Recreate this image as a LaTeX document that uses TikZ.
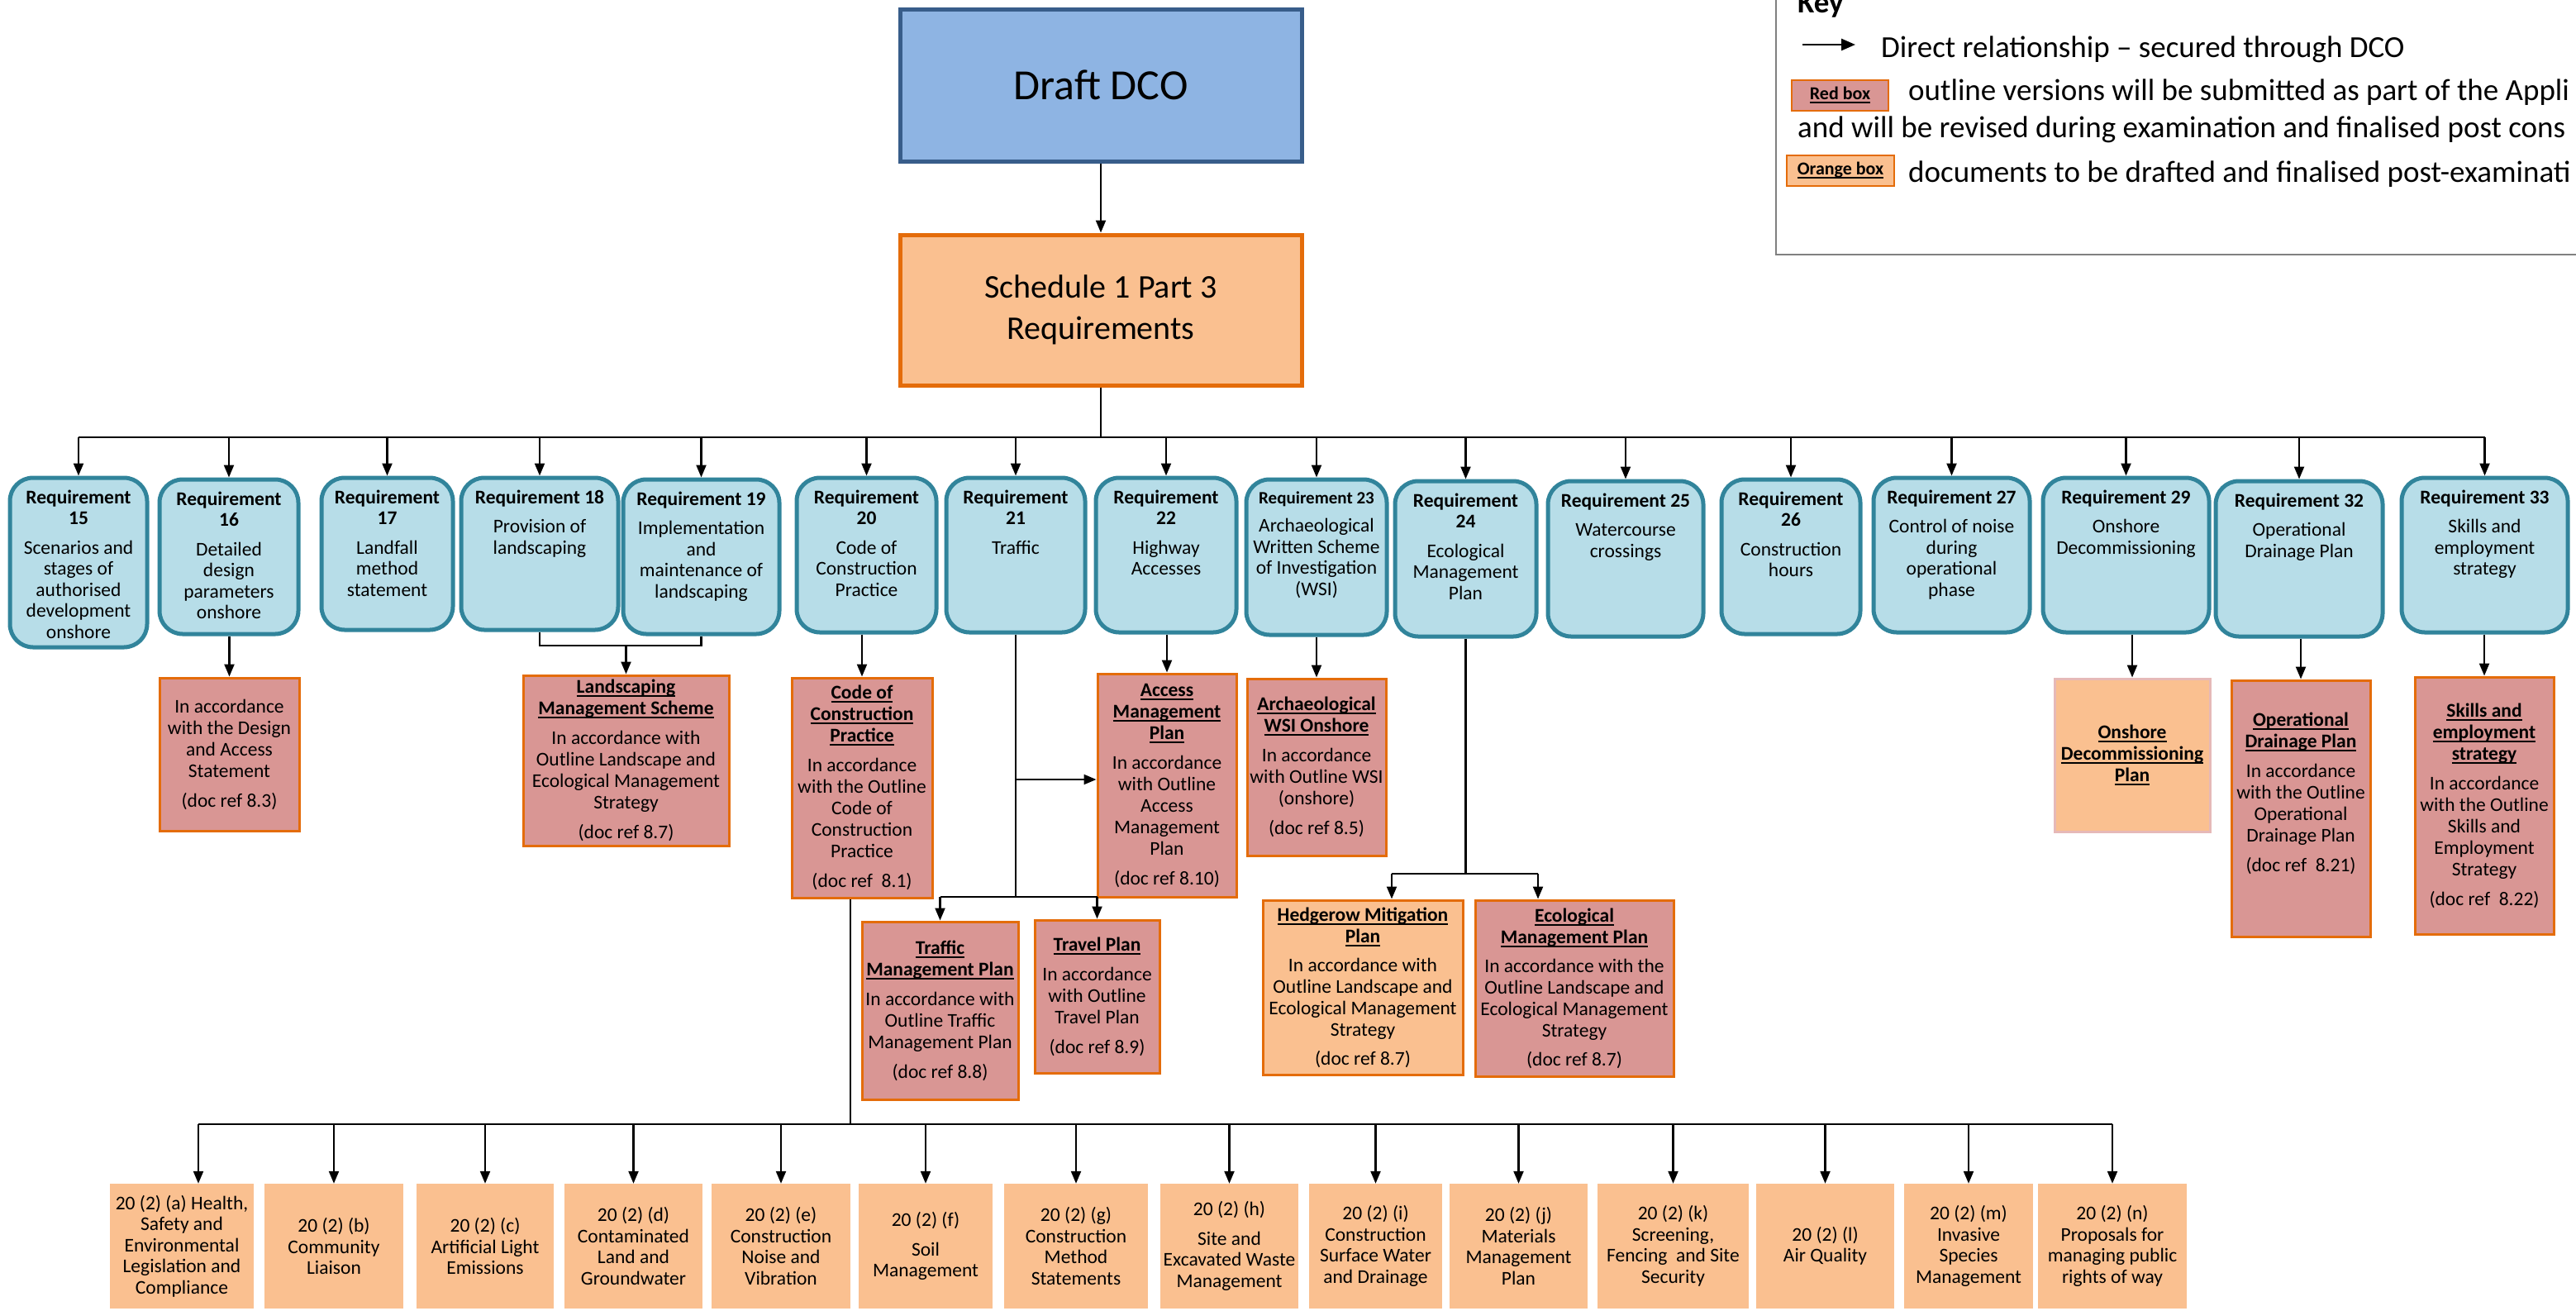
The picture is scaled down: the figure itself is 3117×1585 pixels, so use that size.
\documentclass[tikz,border=0pt]{standalone}
\usepackage{fontspec}
\setmainfont{Carlito}
\usetikzlibrary{arrows.meta,calc}
\definecolor{reqfill}{HTML}{B7DDE8}
\definecolor{reqdraw}{HTML}{31849B}
\definecolor{redfill}{HTML}{D99694}
\definecolor{orgfill}{HTML}{FAC090}
\definecolor{orgdraw}{HTML}{E46C0A}
\definecolor{dcofill}{HTML}{8EB4E3}
\definecolor{dcodraw}{HTML}{385D8A}
\definecolor{pinkdraw}{HTML}{E6B9B8}
\definecolor{keygray}{HTML}{808080}
\newcommand{\fsbody}{\fontsize{23.5}{26}\selectfont}
\newcommand{\fsreq}{\fontsize{23.5}{25.5}\selectfont}
\newcommand{\fsreqs}{\fontsize{21}{23}\selectfont}
\newcommand{\fskey}{\fontsize{37}{44}\selectfont}
\newcommand{\fskeybox}{\fontsize{22}{26}\selectfont}
\newcommand{\uln}[1]{\setbox0\hbox{#1}\leavevmode\rlap{\copy0}\rule[-4.5pt]{\wd0}{2pt}}
\newcommand{\hdl}[1]{\uln{\textbf{#1}}}
\newcommand{\reqbx}[6]{%
  \node[reqbox, minimum width=#4pt, minimum height=#5pt] (#1) at (#2,#3) {};
  \node[reqtext] at ($(#1.north)+(0,17)$) {#6};}
\begin{document}
\begin{tikzpicture}[x=1pt,y=-1pt,
  reqbox/.style={draw=reqdraw, fill=reqfill, line width=5pt, rounded corners=28pt, inner sep=0pt},
  reqtext/.style={anchor=north, align=center, font=\fsreq, inner sep=0pt},
  redbox/.style={draw=orgdraw, fill=redfill, line width=3pt, inner sep=0pt, align=center, font=\fsbody},
  orgbox/.style={draw=orgdraw, fill=orgfill, line width=3pt, inner sep=0pt, align=center, font=\fsbody},
  botbox/.style={fill=orgfill, inner sep=0pt, align=center, font=\fsreq},
  conn/.style={line width=2.2pt, black},
  arr/.style={conn, -{Triangle[length=15pt,width=12pt]}},
  keytxt/.style={font=\fskey, inner sep=0pt, anchor=base west}]
\useasboundingbox (0,0) rectangle (3117,1585);

% ---------- Key ----------
\coordinate (kt) at (2149,0);
\coordinate (kc) at (2149,308);
\coordinate (kr) at (3117,308);
\draw[keygray, line width=2.5pt] (kt) -- (kc) -- (kr);
\node[keytxt, font=\fontsize{37}{44}\selectfont\bfseries] (keyh) at (2175,15) {Key};
\coordinate (ka) at (2181,54);
\coordinate (kb) at (2245,54);
\draw[conn, line width=2.6pt, -{Triangle[length=17pt,width=14pt]}] (ka) -- (kb);
\node[keytxt] (k1) at (2276,69) {Direct relationship – secured through DCO};
\node[redbox, line width=2.5pt, minimum width=117pt, minimum height=37pt, font=\fskeybox] (kred) at (2226.5,115.5) {\hdl{Red box}};
\node[keytxt] (k2) at (2309,121.5) {outline versions will be submitted as part of the Appli};
\node[keytxt] (k3) at (2175,166) {and will be revised during examination and finalised post cons};
\node[orgbox, line width=2.5pt, minimum width=130pt, minimum height=37pt, font=\fskeybox] (korg) at (2227,206.5) {\hdl{Orange box}};
\node[keytxt] (k4) at (2309,220) {documents to be drafted and finalised post-examinati};

% ---------- Top ----------
\node[draw=dcodraw, fill=dcofill, line width=5pt, minimum width=486pt, minimum height=184pt,
      font=\fontsize{52}{60}\selectfont] (dco) at (1332,103) {Draft DCO};
\node[draw=orgdraw, fill=orgfill, line width=5pt, minimum width=486pt, minimum height=182pt,
      align=center, font=\fontsize{40}{50}\selectfont] (sch) at (1332,375) {Schedule 1 Part 3\\Requirements};
\draw[arr] (dco.south) -- (sch.north);

% ---------- Requirements ----------
\reqbx{r15}{95}{680.5}{166}{205}{\textbf{Requirement}\\\textbf{15}\\[10pt]Scenarios and\\stages of\\authorised\\development\\onshore}
\reqbx{r16}{277}{673.5}{168}{187}{\textbf{Requirement}\\\textbf{16}\\[10pt]Detailed\\design\\parameters\\onshore}
\reqbx{r17}{468.5}{670}{159}{184}{\textbf{Requirement}\\\textbf{17}\\[10pt]Landfall\\method\\statement}
\reqbx{r18}{653}{670}{190}{184}{\textbf{Requirement 18}\\[10pt]Provision of\\landscaping}
\reqbx{r19}{848.5}{673.5}{189}{187}{\textbf{Requirement 19}\\[10pt]Implementation\\and\\maintenance of\\landscaping}
\reqbx{r20}{1048.5}{671.5}{169}{187}{\textbf{Requirement}\\\textbf{20}\\[10pt]Code of\\Construction\\Practice}
\reqbx{r21}{1229}{671.5}{168}{187}{\textbf{Requirement}\\\textbf{21}\\[10pt]Traffic}
\reqbx{r22}{1411}{671.5}{170}{187}{\textbf{Requirement}\\\textbf{22}\\[10pt]Highway\\Accesses}
\reqbx{r23}{1593}{674}{170}{188}{\fsreqs\textbf{Requirement 23}\\[9pt]Archaeological\\Written Scheme\\of Investigation\\(WSI)}
\reqbx{r24}{1773.5}{676}{171}{188}{\textbf{Requirement}\\\textbf{24}\\[10pt]Ecological\\Management\\Plan}
\reqbx{r25}{1967}{676}{188}{188}{\textbf{Requirement 25}\\[10pt]Watercourse\\crossings}
\reqbx{r26}{2167}{673.5}{168}{187}{\textbf{Requirement}\\\textbf{26}\\[10pt]Construction\\hours}
\reqbx{r27}{2361.5}{671.5}{189}{187}{\textbf{Requirement 27}\\[10pt]Control of noise\\during\\operational\\phase}
\reqbx{r29}{2572.5}{671.5}{201}{187}{\textbf{Requirement 29}\\[10pt]Onshore\\Decommissioning}
\reqbx{r32}{2782}{676}{202}{188}{\textbf{Requirement 32}\\[10pt]Operational\\Drainage Plan}
\reqbx{r33}{3006.5}{671.5}{201}{187}{\textbf{Requirement 33}\\[10pt]Skills and\\employment\\strategy}

\coordinate (bus) at (0,529);
\draw[conn] (sch.south) -- (sch.south |- bus);
\draw[conn] (r15.north |- bus) -- (r33.north |- bus);
\foreach \r in {r15,r16,r17,r18,r19,r20,r21,r22,r23,r24,r25,r26,r27,r29,r32,r33}
  \draw[arr] (\r.north |- bus) -- (\r.north);

% ---------- Documents ----------
\node[redbox, minimum width=169pt, minimum height=185pt] (das) at (277.5,912.5)
  {In accordance\\with the Design\\and Access\\Statement\\[10pt](doc ref 8.3)};
\node[redbox, minimum width=249pt, minimum height=206pt] (lms) at (757.5,920)
  {\hdl{Landscaping}\\\hdl{Management Scheme}\\[10pt]In accordance with\\Outline Landscape and\\Ecological Management\\Strategy\\[10pt](doc ref 8.7)};
\node[redbox, minimum width=170pt, minimum height=266pt] (cocp) at (1043,953)
  {\hdl{Code of}\\\hdl{Construction}\\\hdl{Practice}\\[10pt]In accordance\\with the Outline\\Code of\\Construction\\Practice\\[10pt](doc ref\ \ 8.1)};
\node[redbox, minimum width=168pt, minimum height=270pt] (amp) at (1412,950)
  {\hdl{Access}\\\hdl{Management}\\\hdl{Plan}\\[10pt]In accordance\\with Outline\\Access\\Management\\Plan\\[10pt](doc ref 8.10)};
\node[redbox, minimum width=168pt, minimum height=214pt] (wsi) at (1593,928)
  {\hdl{Archaeological}\\\hdl{WSI Onshore}\\[10pt]In accordance\\with Outline WSI\\(onshore)\\[10pt](doc ref 8.5)};
\node[redbox, minimum width=189pt, minimum height=215pt] (tmp) at (1137.5,1222.5)
  {\hdl{Traffic}\\\hdl{Management Plan}\\[10pt]In accordance with\\Outline Traffic\\Management Plan\\[10pt](doc ref 8.8)};
\node[redbox, minimum width=151pt, minimum height=185pt] (trv) at (1327.5,1205.5)
  {\hdl{Travel Plan}\\[10pt]In accordance\\with Outline\\Travel Plan\\[10pt](doc ref 8.9)};
\node[orgbox, minimum width=242pt, minimum height=211pt] (hedge) at (1649,1194.5)
  {\hdl{Hedgerow Mitigation}\\\hdl{Plan}\\[9pt]In accordance with\\Outline Landscape and\\Ecological Management\\Strategy\\[9pt](doc ref 8.7)};
\node[redbox, minimum width=240pt, minimum height=213pt] (eco) at (1905,1195.5)
  {\hdl{Ecological}\\\hdl{Management Plan}\\[9pt]In accordance with the\\Outline Landscape and\\Ecological Management\\Strategy\\[9pt](doc ref 8.7)};
\node[orgbox, draw=pinkdraw, minimum width=188pt, minimum height=185pt] (odec) at (2580,913.5)
  {\hdl{Onshore}\\\hdl{Decommissioning}\\\hdl{Plan}};
\node[redbox, minimum width=168pt, minimum height=310pt] (odp) at (2784,978) {};
\node[align=center, font=\fsbody, inner sep=0pt] (odpt) at (2784,960)
  {\hdl{Operational}\\\hdl{Drainage Plan}\\[10pt]In accordance\\with the Outline\\Operational\\Drainage Plan\\[10pt](doc ref\ \ 8.21)};
\node[redbox, minimum width=168pt, minimum height=311pt] (skl) at (3006,974.5)
  {\hdl{Skills and}\\\hdl{employment}\\\hdl{strategy}\\[10pt]In accordance\\with the Outline\\Skills and\\Employment\\Strategy\\[10pt](doc ref\ \ 8.22)};

% connectors to documents
\draw[arr] (das.north |- r16.south) -- (das.north);
\coordinate (j) at (0,781);
\draw[conn] (r18.south) -- (r18.south |- j) -- (r19.south |- j) -- (r19.south);
\draw[arr] (lms.north |- j) -- (lms.north);
\draw[arr] (cocp.north |- r20.south) -- (cocp.north);
\coordinate (ts) at (0,1085);
\coordinate (ab) at (0,943);
\draw[conn] (r21.south) -- (r21.south |- ts);
\draw[arr] (r21.south |- ab) -- (amp.west |- ab);
\draw[conn] (tmp.north |- ts) -- (trv.north |- ts);
\draw[arr] (tmp.north |- ts) -- (tmp.north);
\draw[arr] (trv.north |- ts) -- (trv.north);
\draw[arr] (amp.north |- r22.south) -- (amp.north);
\draw[arr] (wsi.north |- r23.south) -- (wsi.north);
\coordinate (es) at (0,1057);
\draw[conn] (r24.south) -- (r24.south |- es);
\draw[conn] ($(hedge.north |- es)+(35,0)$) -- ($(eco.north |- es)+(-44,0)$);
\draw[arr] ($(hedge.north |- es)+(35,0)$) -- ($(hedge.north)+(35,0)$);
\draw[arr] ($(eco.north |- es)+(-44,0)$) -- ($(eco.north)+(-44,0)$);
\draw[arr] (odec.north |- r29.south) -- (odec.north);
\draw[arr] (odp.north |- r32.south) -- (odp.north);
\draw[arr] (skl.north |- r33.south) -- (skl.north);

% ---------- Bottom row ----------
\node[botbox, minimum width=174pt, minimum height=151pt] (ba) at (220,1507.5) {20 (2) (a) Health,\\Safety and\\Environmental\\Legislation and\\Compliance};
\node[botbox, minimum width=168pt, minimum height=151pt] (bb) at (404,1507.5) {20 (2) (b)\\Community\\Liaison};
\node[botbox, minimum width=166pt, minimum height=151pt] (bc) at (587,1507.5) {20 (2) (c)\\Artificial Light\\Emissions};
\node[botbox, minimum width=167pt, minimum height=151pt] (bd) at (766.5,1507.5) {20 (2) (d)\\Contaminated\\Land and\\Groundwater};
\node[botbox, minimum width=168pt, minimum height=151pt] (be) at (945,1507.5) {20 (2) (e)\\Construction\\Noise and\\Vibration};
\node[botbox, minimum width=162pt, minimum height=151pt] (bf) at (1120,1507.5) {20 (2) (f)\\[10pt]Soil\\Management};
\node[botbox, minimum width=174pt, minimum height=151pt] (bg) at (1302,1507.5) {20 (2) (g)\\Construction\\Method\\Statements};
\node[botbox, minimum width=167pt, minimum height=151pt] (bh) at (1487.5,1507.5) {20 (2) (h)\\[10pt]Site and\\Excavated Waste\\Management};
\node[botbox, minimum width=161pt, minimum height=151pt] (bi) at (1664.5,1507.5) {20 (2) (i)\\Construction\\Surface Water\\and Drainage};
\node[botbox, minimum width=167pt, minimum height=151pt] (bj) at (1837.5,1507.5) {20 (2) (j)\\Materials\\Management\\Plan};
\node[botbox, minimum width=183pt, minimum height=151pt] (bk) at (2024.5,1507.5) {20 (2) (k)\\Screening,\\Fencing\ \ and Site\\Security};
\node[botbox, minimum width=167pt, minimum height=151pt] (bl) at (2208.5,1507.5) {20 (2) (l)\\Air Quality};
\node[botbox, minimum width=156pt, minimum height=151pt] (bm) at (2382,1507.5) {20 (2) (m)\\Invasive\\Species\\Management};
\node[botbox, minimum width=180pt, minimum height=151pt] (bn) at (2556,1507.5) {20 (2) (n)\\Proposals for\\managing public\\rights of way};

\coordinate (bbus) at (0,1360);
\draw[conn] ($(cocp.south)+(-14,0)$) -- ($(cocp.south |- bbus)+(-14,0)$);
\draw[conn] ($(ba.north |- bbus)+(20,0)$) -- (bn.north |- bbus);
\draw[arr] ($(ba.north |- bbus)+(20,0)$) -- ($(ba.north)+(20,0)$);
\foreach \b in {bb,bc,bd,be,bf,bg,bh,bi,bj,bk,bl,bm,bn}
  \draw[arr] (\b.north |- bbus) -- (\b.north);
\end{tikzpicture}
\end{document}
